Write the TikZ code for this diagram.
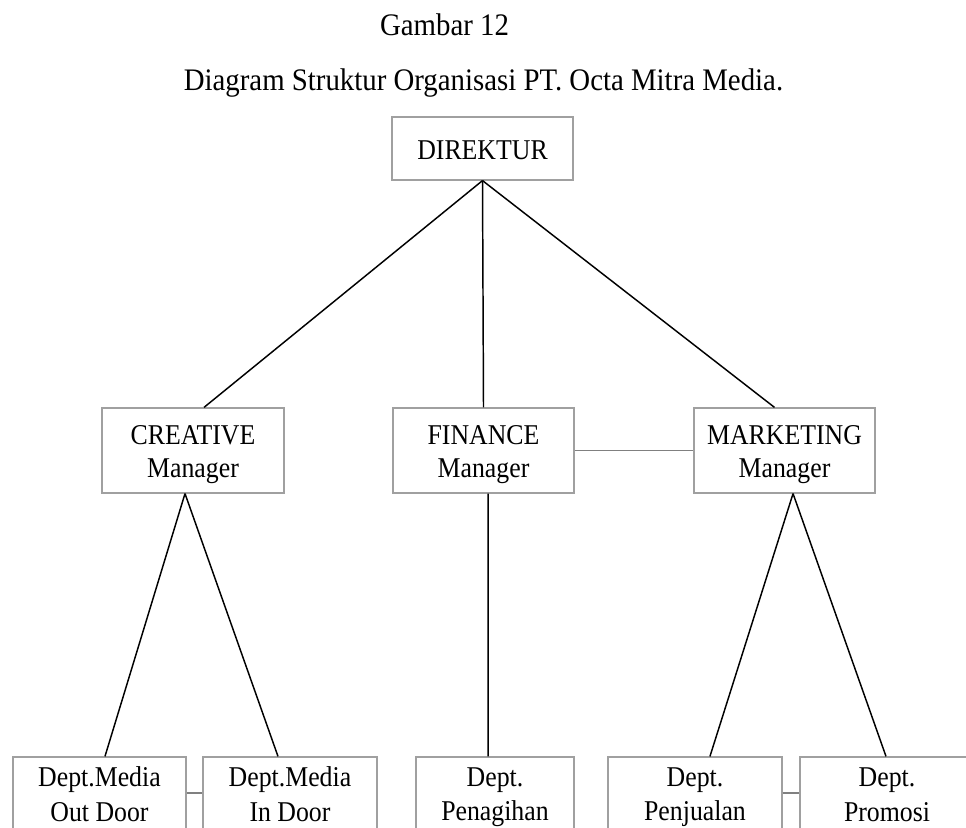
\documentclass[tikz,border=0pt]{standalone}
\usepackage{fontspec}
\setmainfont{Liberation Serif}
\newfontfamily\narrowserif[FakeStretch=0.9]{Liberation Serif}
\newfontfamily\titleserif[FakeStretch=0.92]{Liberation Serif}
\definecolor{boxgray}{HTML}{A0A0A0}
\definecolor{linkgray}{HTML}{808080}
\newcommand\boxstrut{\rule[-3.75pt]{0pt}{24pt}}
\begin{document}
\begin{tikzpicture}[x=0.75pt,y=-0.75pt,
  box/.style={draw=boxgray, line width=0.9pt, fill=white, inner sep=0pt, align=center,
    font=\narrowserif\fontsize{21.5pt}{23pt}\selectfont},
  topbox/.style={box, minimum height=63*0.75pt},
  midbox/.style={box, minimum height=85*0.75pt},
  lowbox/.style={box, minimum height=72*0.75pt},
  link/.style={line width=1.1pt, black},
  side/.style={line width=0.8pt, linkgray},
  title/.style={anchor=base, font=\titleserif\fontsize{23.5pt}{26pt}\selectfont}]
\useasboundingbox (0,0) rectangle (966,827);
\clip (0,0) rectangle (966,827);

\node[title] (t1) at (444.5,36) {Gambar 12};
\node[title] (t2) at (483.5,91) {Diagram Struktur Organisasi PT. Octa Mitra Media.};

\node[topbox, minimum width=181*0.75pt] (dir) at (482.5,148.5) {\boxstrut DIREKTUR};

\node[midbox, minimum width=182*0.75pt] (cre) at (193,450.5) {\boxstrut CREATIVE\\\boxstrut Manager};
\node[midbox, minimum width=181*0.75pt] (fin) at (483.5,450.5) {\boxstrut FINANCE\\\boxstrut Manager};
\node[midbox, minimum width=181*0.75pt] (mkt) at (784.5,450.5) {\boxstrut MARKETING\\\boxstrut Manager};

\node[lowbox, minimum width=173*0.75pt] (d1) at (99.5,793) {\boxstrut Dept.Media\\\boxstrut Out Door};
\node[lowbox, minimum width=174*0.75pt] (d2) at (290,793) {\boxstrut Dept.Media\\\boxstrut In Door};
\node[lowbox, minimum width=158*0.75pt] (d3) at (495,793) {\boxstrut Dept.\\\boxstrut Penagihan};
\node[lowbox, minimum width=174*0.75pt] (d4) at (695,793) {\boxstrut Dept.\\\boxstrut Penjualan};
\node[lowbox, minimum width=174*0.75pt] (d5) at (887,793) {\boxstrut Dept.\\\boxstrut Promosi};

% connectors from Direktur
\draw[link] (dir.south) -- ([xshift=8.25pt]cre.north);
\draw[link] (dir.south) -- (fin.north);
\draw[link] (dir.south) -- ([xshift=-7.5pt]mkt.north);

% connectors to departments
\draw[link] ([xshift=-6pt]cre.south) -- ([xshift=4.1pt]d1.north);
\draw[link] ([xshift=-6pt]cre.south) -- ([xshift=-9pt]d2.north);
\draw[link] ([xshift=3.4pt]fin.south) -- ([xshift=-5.2pt]d3.north);
\draw[link] ([xshift=6.4pt]mkt.south) -- ([xshift=11.2pt]d4.north);
\draw[link] ([xshift=6.4pt]mkt.south) -- ([xshift=-0.75pt]d5.north);

% side links
\draw[side] (fin.east) -- (mkt.west);
\draw[side] (d1.east) -- (d2.west);
\draw[side] (d4.east) -- (d5.west);
\end{tikzpicture}
\end{document}
